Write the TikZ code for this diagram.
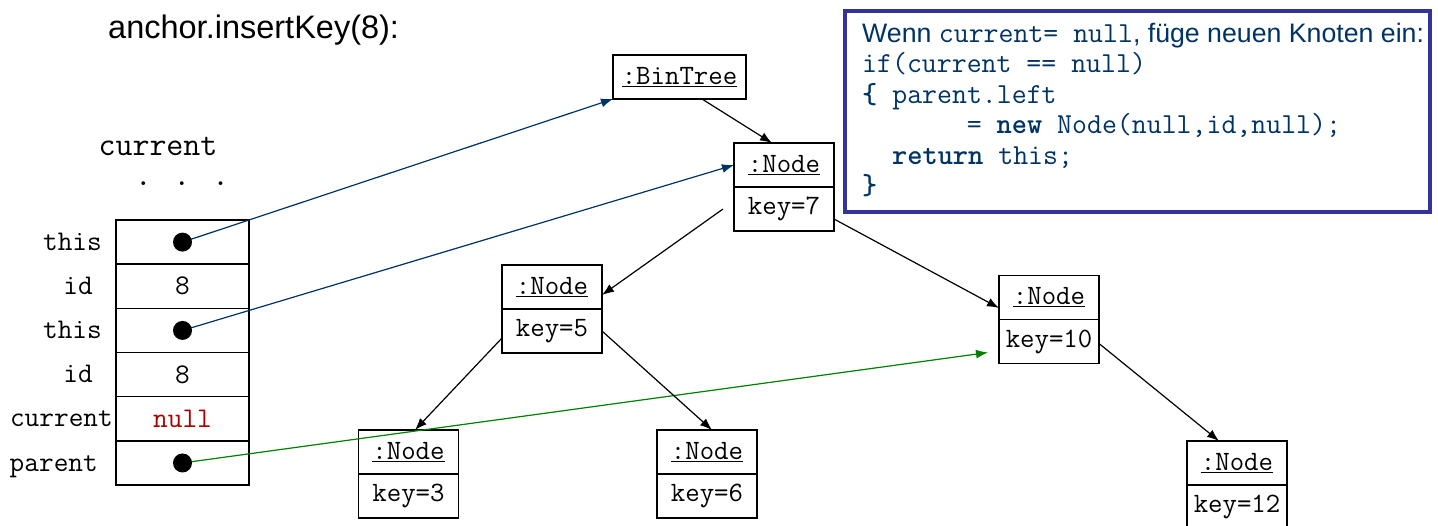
\documentclass[tikz,border=0pt]{standalone}
\usepackage{fontspec}
\usepackage{tikz}
\usetikzlibrary{positioning,arrows.meta}
\newfontfamily\arial{Liberation Sans}
\newcommand{\txt}[1]{{\arial\fontsize{26.7}{30.5}\selectfont #1}}
\definecolor{navy}{RGB}{0,51,102}
\definecolor{framec}{RGB}{51,51,153}
\definecolor{nullred}{RGB}{170,0,0}
\definecolor{ptrgreen}{RGB}{0,128,0}

\begin{document}
\begin{tikzpicture}[x=1pt,y=-1pt,
  obj/.style={draw, line width=1.2pt, outer sep=0pt, inner sep=0pt, minimum width=100pt, minimum height=44pt, font=\fontsize{28}{30}\ttfamily},
  cell/.style={draw, line width=1.5pt, outer sep=0pt, inner sep=0pt, minimum width=133pt, minimum height=44.17pt, font=\fontsize{28.5}{30}\ttfamily},
  dot/.style={circle, fill, inner sep=0pt, minimum size=19pt},
  var/.style={anchor=base east, inner sep=0pt, font=\fontsize{28.5}{30}\ttfamily},
  link/.style={-{Latex[length=12pt,width=9pt]}, line width=1.2pt}]
\useasboundingbox[fill=white] (0,0) rectangle (1438,525);

\node[anchor=base west, inner sep=0pt, font=\arial\fontsize{32.5}{36}\selectfont] (title) at (108,38) {anchor.insertKey(8):};

% stack frame
\node[anchor=base, inner sep=0pt, font=\fontsize{33}{36}\ttfamily] (cur) at (158,155) {current};
\node[inner sep=0pt, font=\fontsize{33}{36}\ttfamily] (dots) at (182,184) {.\hspace{21.7pt}.\hspace{21.7pt}.};
\node[cell] (s1) at (182.5,242.1) {};
\node[cell, below=0pt of s1] (s2) {8};
\node[cell, below=0pt of s2] (s3) {};
\node[cell, below=0pt of s3] (s4) {8};
\node[cell, below=0pt of s4, text=nullred] (s5) {null};
\node[cell, below=0pt of s5] (s6) {};
\node[var] (l1) at (102,250.1) {this};
\node[var] (l2) at (93,294.3) {id};
\node[var] (l3) at (102,338.4) {this};
\node[var] (l4) at (93,382.6) {id};
\node[var] (l5) at (113,426.8) {current};
\node[var] (l6) at (98,471) {parent};

% objects
\node[obj, minimum width=133pt] (bt) at (679.5,77) {\underline{:BinTree}};
\node[obj] (n7) at (784,165) {\underline{:Node}};
\node[obj, below=0pt of n7] (n7k) {key=7};
\node[obj] (n5) at (552,287) {\underline{:Node}};
\node[obj, below=0pt of n5] (n5k) {key=5};
\node[obj] (n3) at (408.5,452) {\underline{:Node}};
\node[obj, below=0pt of n3] (n3k) {key=3};
\node[obj] (n6) at (707,452) {\underline{:Node}};
\node[obj, below=0pt of n6] (n6k) {key=6};
\node[obj] (n10) at (1049,297.5) {\underline{:Node}};
\node[obj, below=0pt of n10] (n10k) {key=10};
\node[obj] (n12) at (1237,463) {\underline{:Node}};
\node[obj, below=0pt of n12] (n12k) {key=12};

% code box
\node[draw=framec, fill=white, line width=4pt, outer sep=0pt, minimum width=585pt, minimum height=201.5pt] (codebox) at (1137.5,111.25) {};
\node[anchor=north west, inner sep=0pt, text=navy, align=left, font=\fontsize{29}{30.5}\ttfamily] (code) at (862,22.6) {%
\txt{Wenn }current= null\txt{, füge neuen Knoten ein:}\\
if(current == null)\\
\textbf{\{} parent.left\\
\phantom{xxxxxxx}= \textbf{new} Node(null,id,null);\\
\phantom{xx}\textbf{return} this;\\
\textbf{\}}};

% references
\draw[link, navy] (s1.center) -- (bt.south west);
\draw[link, navy] (s3.center) -- (n7.west);
\draw[link, ptrgreen] (s6.center) -- ([xshift=-11pt,yshift=11pt]n10k.south west);
\draw[link] ([xshift=22.5pt]bt.south) -- ([xshift=-12pt]n7.north);
\draw[link] ([xshift=-11pt]n7k.west) -- ([yshift=-8pt]n5.east);
\draw[link] ([yshift=-10pt]n7k.east) -- ([yshift=-10.5pt]n10.west);
\draw[link] ([yshift=-7pt]n5k.west) -- ([xshift=6.5pt]n3.north);
\draw[link] (n5k.east) -- ([xshift=5pt]n6.north);
\draw[link] ([yshift=-2pt]n10k.east) -- ([xshift=-18pt]n12.north);
\node[dot] (d1) at (s1) {};
\node[dot] (d3) at (s3) {};
\node[dot] (d6) at (s6) {};
\end{tikzpicture}
\end{document}
